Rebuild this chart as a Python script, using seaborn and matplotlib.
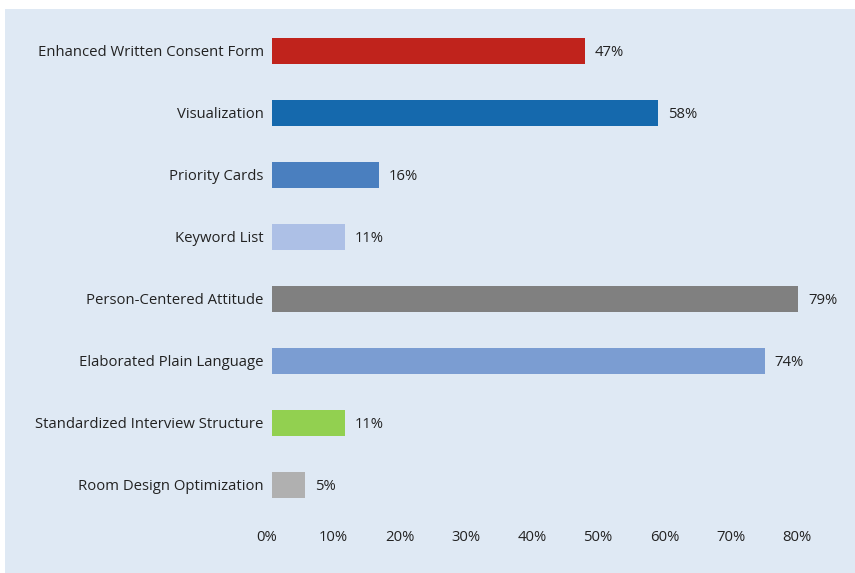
import matplotlib
matplotlib.use("Agg")
import matplotlib.pyplot as plt
import matplotlib.patches as mpatches
import matplotlib.transforms as mtransforms
import seaborn as sns
import pandas as pd

categories = [
    "Enhanced Written Consent Form",
    "Visualization",
    "Priority Cards",
    "Keyword List",
    "Person-Centered Attitude",
    "Elaborated Plain Language",
    "Standardized Interview Structure",
    "Room Design Optimization",
]
values = [47, 58, 16, 11, 79, 74, 11, 5]
colors = ["#c0231c", "#1569ad", "#4a7fbf", "#adc0e6", "#808080", "#7b9dd2", "#92d050", "#b0b0b0"]
xticks = [0, 10, 20, 30, 40, 50, 60, 70, 80]
xtick_labels = [f"{t}%" for t in xticks]

sns.set_theme(style="white")
plt.rcParams["font.family"] = ["Open Sans", "DejaVu Sans"]

bg = "#dfe9f4"
fs = 10.7
fig = plt.figure(figsize=(8.55, 5.73), dpi=100, facecolor="white")
fig.patches.append(mpatches.Rectangle((5 / 855, 0), 1, 1 - 9 / 573, transform=fig.transFigure,
                                      facecolor=bg, edgecolor="none", zorder=-10))
ax = fig.add_axes([272 / 855, 1 - 516 / 573, 533 / 855, 496 / 573])
ax.set_facecolor("none")
ax.set_zorder(5)

df = pd.DataFrame({"cat": categories, "val": values})
sns.barplot(data=df, x="val", y="cat", hue="cat", palette=colors, legend=False,
            width=0.41, ax=ax, saturation=1, linewidth=0, edgecolor="none")

for i, v in enumerate(values):
    ax.annotate(f"{v}%", xy=(v, i), xytext=(7, 0), textcoords="offset points",
                va="center_baseline", ha="left", fontsize=fs, color="#222222")

ax.set_xlim(0, 80)
ax.set_ylim(7.5, -0.5)
ax.set_xticks(xticks)
ax.set_xticklabels(xtick_labels, fontsize=fs, color="#222222")
ax.tick_params(axis="y", labelsize=fs, labelcolor="#222222", length=0, pad=6)
ax.tick_params(axis="x", length=0, pad=10)
for lbl in ax.get_yticklabels():
    lbl.set_verticalalignment("center_baseline")
shift = mtransforms.ScaledTranslation(-5 / 100, 0, fig.dpi_scale_trans)
for k, lbl in enumerate(ax.get_xticklabels()):
    lbl.set_transform(lbl.get_transform() + mtransforms.ScaledTranslation(-(5 + k * 0.4) / 100, 0, fig.dpi_scale_trans))
ax.set_xlabel("")
ax.set_ylabel("")
for s in ax.spines.values():
    s.set_visible(False)

fig.savefig("out.png", dpi=100, facecolor="white")
